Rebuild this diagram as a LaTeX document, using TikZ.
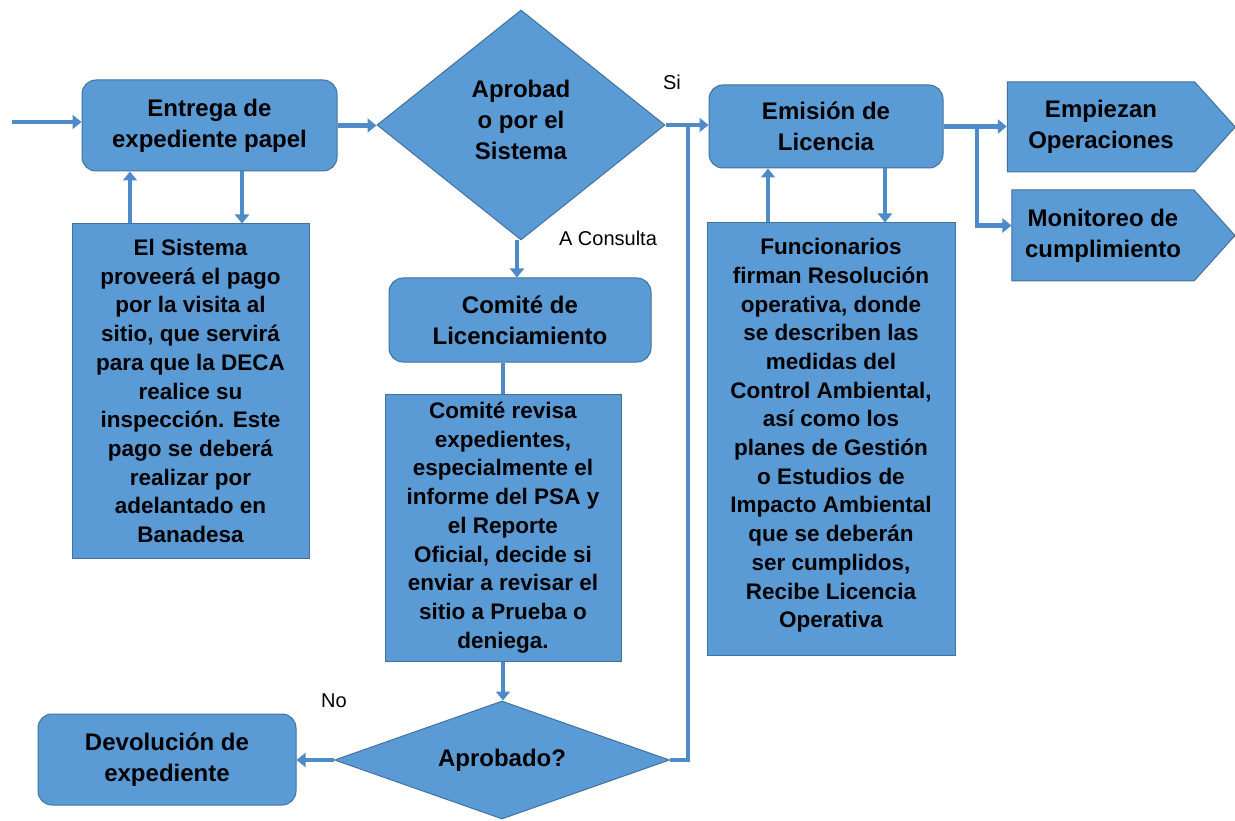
\documentclass[tikz,border=0pt]{standalone}
\usepackage{fontspec}
\setmainfont{Liberation Sans}
\usetikzlibrary{arrows.meta,shapes.geometric,shapes.symbols}
\definecolor{cajaazul}{HTML}{5B9BD5}
\definecolor{bordeazul}{HTML}{41719C}
\definecolor{lineaazul}{HTML}{4F8BC9}
\newcommand{\titulo}{\fontsize{24}{31}\selectfont\bfseries}
\newcommand{\cuerpo}{\fontsize{22.5}{28.7}\selectfont\bfseries}
\tikzset{
proceso/.style={draw=bordeazul, fill=cajaazul, line width=1pt, rounded corners=14pt, align=center, font=\titulo}, % cajas redondeadas
nota/.style={draw=bordeazul, fill=cajaazul, line width=1pt, align=center, font=\cuerpo, inner sep=0pt}, % cajas de texto largo
decision/.style={diamond, draw=bordeazul, fill=cajaazul, line width=1pt, align=center, font=\titulo, inner sep=0pt}, % rombos
salida/.style={signal, signal to=east, signal pointer angle=96, draw=bordeazul, fill=cajaazul, line width=1pt, align=center, font=\titulo, inner sep=0pt}, % pentagonos finales
flecha/.style={draw=lineaazul, line width=4.5pt, -{Triangle[length=9pt,width=14pt]}}, % conectores con punta
linea/.style={draw=lineaazul, line width=4.5pt}, % conectores sin punta
etiqueta/.style={font=\fontsize{20}{24}\selectfont}, % Si, No, A Consulta
}
\begin{document}
\begin{tikzpicture}[x=1pt,y=-1pt]
	\useasboundingbox (0,0) rectangle (1235,821);
	\node[proceso, minimum width=255pt, minimum height=91pt] (entrega) at (209.5,125.5) {Entrega de\\expediente papel};
	\node[nota, minimum width=237pt, minimum height=334pt] (sistema) at (190.5,391) {El Sistema\\proveerá el pago\\por la visita al\\sitio, que servirá\\para que la DECA\\realice su\\inspección. Este\\pago se deberá\\realizar por\\adelantado en\\Banadesa};
	\node[decision, minimum width=288pt, minimum height=230pt, shape aspect=1.25] (dec1) at (521,125) {Aprobad\\o por el\\Sistema\\[-21pt]};
	\node[proceso, minimum width=262pt, minimum height=84pt] (comite) at (520,320) {Comité de\\Licenciamiento};
	\node[nota, minimum width=236pt, minimum height=267pt] (revisa) at (503,527.5) {Comité revisa\\expedientes,\\especialmente el\\informe del PSA y\\el Reporte\\Oficial, decide si\\enviar a revisar el\\sitio a Prueba o\\deniega.};
	\node[decision, minimum width=335pt, minimum height=118pt, shape aspect=2.8] (dec2) at (502,760) {Aprobado?};
	\node[proceso, minimum width=258pt, minimum height=91pt] (devol) at (167,759.5) {Devolución de\\expediente};
	\node[proceso, minimum width=234pt, minimum height=83pt] (emision) at (826,126.5) {Emisión de\\Licencia};
	\node[nota, minimum width=248pt, minimum height=432pt] (funcion) at (831,439) {Funcionarios\\firman Resolución\\operativa, donde\\se describen las\\medidas del\\Control Ambiental,\\así como los\\planes de Gestión\\o Estudios de\\Impacto Ambiental\\que se deberán\\ser cumplidos,\\Recibe Licencia\\Operativa\\[-16.7pt]};
	\node[salida, minimum width=228pt, minimum height=90pt] (empiezan) at (1101,127) {Empiezan\\Operaciones};
	\node[salida, minimum width=223pt, minimum height=91pt] (monitoreo) at (1103,235.5) {Monitoreo de\\cumplimiento};

	\node[etiqueta] (si) at (672,82) {Si};
	\node[etiqueta] (consulta) at (608,238) {A Consulta};
	\node[etiqueta] (no) at (334,701) {No};

	\coordinate (inicio) at (12,122);
	\coordinate (union) at (688,125);
	\coordinate (rama) at (977,126.5);

	\draw[flecha] (inicio) -- (inicio -| entrega.west);
	\draw[flecha] (entrega.east) -- (entrega.east -| dec1.west);
	\draw[flecha] ([xshift=-60.5pt]sistema.north) -- ([xshift=-60.5pt]sistema.north |- entrega.south);
	\draw[flecha] ([xshift=51.5pt]sistema.north |- entrega.south) -- ([xshift=51.5pt]sistema.north);
	\draw[flecha] ([xshift=-4pt]dec1.south) -- ([xshift=-4pt]dec1.south |- comite.north);
	\draw[linea] (comite.south -| revisa.north) -- (revisa.north);
	\draw[flecha] (revisa.south) -- (revisa.south |- dec2.north);
	\draw[flecha] (dec2.west) -- (dec2.west -| devol.east);
	\draw[linea] (dec2.east) -| (union);
	\draw[flecha] (dec1.east) -- (dec1.east -| emision.west);
	\draw[flecha] ([xshift=-63pt]funcion.north) -- ([xshift=-63pt]funcion.north |- emision.south);
	\draw[flecha] ([xshift=54pt]funcion.north |- emision.south) -- ([xshift=54pt]funcion.north);
	\draw[flecha] (emision.east) -- (emision.east -| empiezan.west);
	\draw[flecha] (rama) |- ([yshift=10pt]monitoreo.west);
\end{tikzpicture}
\end{document}
